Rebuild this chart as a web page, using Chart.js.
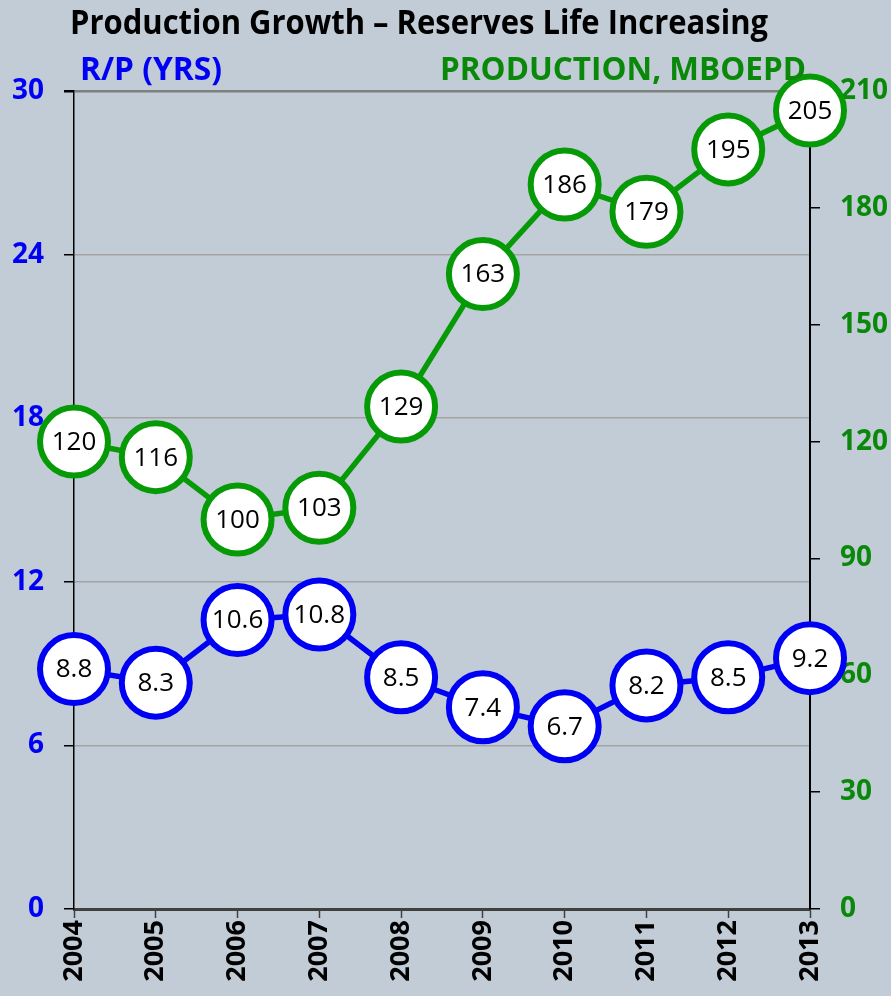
<!DOCTYPE html>
<html>
<head>
<meta charset="utf-8">
<script src="https://cdn.jsdelivr.net/npm/chart.js@4.4.1/dist/chart.umd.min.js"></script>
<style>
  html, body { margin: 0; padding: 0; background: #c2ccd7; }
  #wrap { width: 891px; height: 996px; position: relative; }
</style>
</head>
<body>
<div id="wrap"><canvas id="myChart" width="891" height="996"></canvas></div>
<script>
const years = ['2004', '2005', '2006', '2007', '2008', '2009', '2010', '2011', '2012', '2013'];
const rpYears = [8.8, 8.3, 10.6, 10.8, 8.5, 7.4, 6.7, 8.2, 8.5, 9.2];
const production = [120, 116, 100, 103, 129, 163, 186, 179, 195, 205];
const rpTicks = [0, 6, 12, 18, 24, 30];
const prodTicks = [0, 30, 60, 90, 120, 150, 180, 210];

const BLUE = '#0000f5';
const GREEN = '#079a07';
const GREEN_TXT = '#0a880a';

Chart.defaults.font.family = "'Open Sans', 'Noto Sans', sans-serif";

// heading texts drawn on the canvas
const headings = {
  id: 'headings',
  afterDraw(chart) {
    const c = chart.ctx;
    c.save();
    c.textBaseline = 'alphabetic';
    c.textAlign = 'left';
    c.fillStyle = '#000';
    c.font = "bold 34px 'Open Sans'";
    c.fillText('Production Growth \u2013 Reserves Life Increasing', 70, 34, 698);
    c.fillStyle = BLUE;
    c.font = "bold 33px 'Open Sans'";
    c.fillText('R/P (YRS)', 80, 80, 142);
    c.fillStyle = GREEN_TXT;
    c.fillText('PRODUCTION, MBOEPD', 440, 80, 366);
    c.restore();
  }
};

// value inside each circle
const pointLabels = {
  id: 'pointLabels',
  afterDatasetsDraw(chart) {
    const c = chart.ctx;
    c.save();
    c.font = "26px 'Open Sans'";
    c.fillStyle = '#000';
    c.textAlign = 'center';
    c.textBaseline = 'middle';
    chart.data.datasets.forEach((ds, i) => {
      chart.getDatasetMeta(i).data.forEach((pt, j) => {
        c.fillText(String(ds.data[j]), pt.x, pt.y + 1, 58);
      });
    });
    c.restore();
  }
};

const ctx = document.getElementById('myChart');

const myChart = new Chart(ctx, {
  type: 'line',
  data: {
    labels: years,
    datasets: [{
      label: 'R/P (YRS)',
      data: rpYears,
      yAxisID: 'y',
      borderColor: BLUE,
      borderWidth: 5.5,
      pointRadius: 34,
      pointHoverRadius: 34,
      pointBorderWidth: 6,
      pointBackgroundColor: '#fff',
      pointBorderColor: BLUE,
      clip: false
    }, {
      label: 'PRODUCTION, MBOEPD',
      data: production,
      yAxisID: 'y1',
      borderColor: GREEN,
      borderWidth: 5.5,
      pointRadius: 34,
      pointHoverRadius: 34,
      pointBorderWidth: 6,
      pointBackgroundColor: '#fff',
      pointBorderColor: GREEN,
      clip: false
    }]
  },
  options: {
    responsive: false,
    animation: false,
    events: [],
    layout: { padding: { top: 91, left: 0, right: 0, bottom: 0 } },
    plugins: {
      legend: { display: false },
      tooltip: { enabled: false }
    },
    scales: {
      x: {
        offset: false,
        afterFit: (s) => { s.height = 87; },
        grid: { drawOnChartArea: false, tickLength: 9, tickColor: '#404040', tickWidth: 1.5 },
        border: { color: '#404040', width: 3 },
        ticks: {
          minRotation: 90, maxRotation: 90, padding: 2,
          color: '#000',
          font: { size: 27, weight: 'bold' }
        }
      },
      y: {
        position: 'left',
        min: 0, max: 30,
        afterFit: (s) => { s.width = 74; },
        afterBuildTicks: (s) => { s.ticks = rpTicks.map(v => ({ value: v })); },
        grid: {
          color: (c) => c.tick && c.tick.value === 30 ? '#7f7f7f' : (c.tick && c.tick.value === 0 ? 'rgba(0,0,0,0)' : '#a3a3a3'),
          lineWidth: (c) => c.tick && c.tick.value === 30 ? 2.5 : 1.5,
          tickColor: '#000',
          tickLength: 10
        },
        border: { color: '#000', width: 1.5 },
        ticks: { color: BLUE, padding: 20, font: { size: 28, weight: 'bold' } }
      },
      y1: {
        position: 'right',
        min: 0, max: 210,
        afterFit: (s) => { s.width = 81; },
        afterBuildTicks: (s) => { s.ticks = prodTicks.map(v => ({ value: v })); },
        grid: { drawOnChartArea: false, tickColor: '#000', tickLength: 10, lineWidth: 1.5 },
        border: { color: '#000', width: 2 },
        ticks: { color: GREEN_TXT, padding: 20, font: { size: 28, weight: 'bold' } }
      }
    }
  },
  plugins: [headings, pointLabels]
});
</script>
</body>
</html>
